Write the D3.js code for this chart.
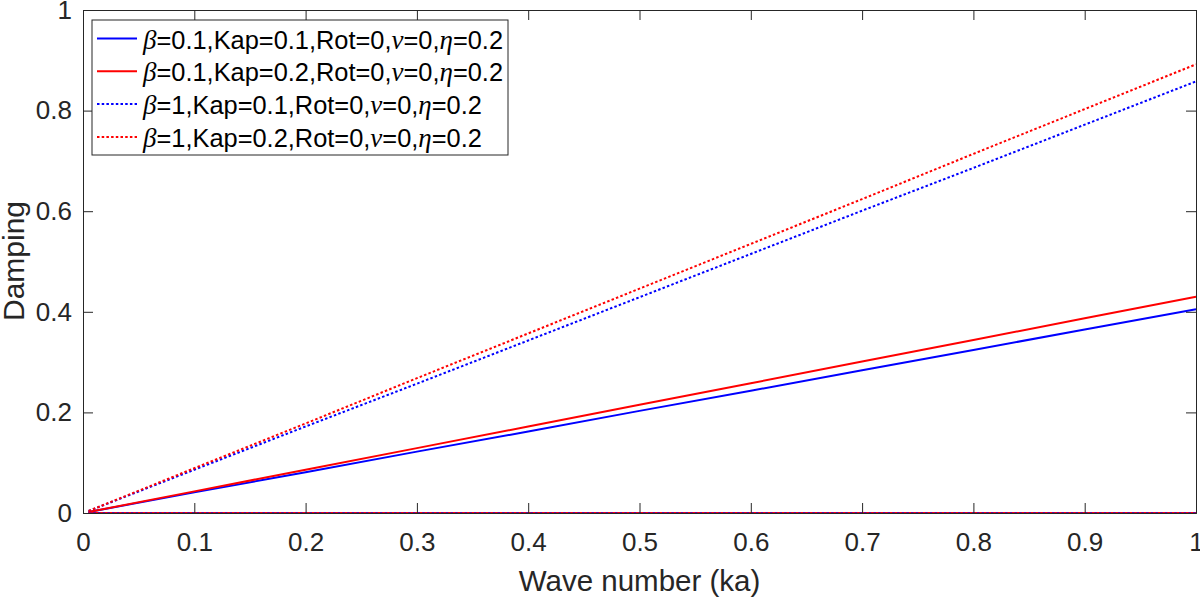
<!DOCTYPE html>
<html>
<head>
<meta charset="utf-8">
<script src="https://cdn.jsdelivr.net/npm/d3@7"></script>
<style>
  body { margin: 0; background: #fff; }
  svg { font-family: "Liberation Sans", Arial, sans-serif; }
</style>
</head>
<body>
<div id="chart"></div>
<script>
/* DATA */
const ka = [0.005, 0.1, 0.2, 0.3, 0.4, 0.5, 0.6, 0.7, 0.8, 0.9, 1.0];
const blueSolid = [0.002, 0.041, 0.081, 0.122, 0.162, 0.203, 0.243, 0.284, 0.324, 0.365, 0.405];
const redSolid  = [0.002, 0.043, 0.086, 0.129, 0.172, 0.215, 0.258, 0.301, 0.344, 0.387, 0.430];
const blueDot   = [0.004, 0.086, 0.172, 0.257, 0.343, 0.429, 0.515, 0.601, 0.686, 0.772, 0.858];
const redDot    = [0.004, 0.089, 0.178, 0.268, 0.357, 0.446, 0.535, 0.624, 0.714, 0.803, 0.892];
const zeroBranch = [0, 0, 0, 0, 0, 0, 0, 0, 0, 0, 0];
const xTicks = [0, 0.1, 0.2, 0.3, 0.4, 0.5, 0.6, 0.7, 0.8, 0.9, 1];
const yTicks = [0, 0.2, 0.4, 0.6, 0.8, 1];

const series = [
  { beta: "0.1", kap: "0.1", values: blueSolid, color: "#0000ff", dotted: false },
  { beta: "0.1", kap: "0.2", values: redSolid,  color: "#ff0000", dotted: false },
  { beta: "1",   kap: "0.1", values: blueDot,   color: "#0000ff", dotted: true },
  { beta: "1",   kap: "0.2", values: redDot,    color: "#ff0000", dotted: true }
];
// drawing order of the zero-damping branches (they all overlap on y = 0)
const zeroOrder = [0, 1, 3, 2];

/* LAYOUT */
const width = 1200, height = 597,
  margin = { top: 10, right: 4, bottom: 84, left: 83 };
const axisColor = "#262626";
const dots = "2.5,2.2";

const svg = d3.select("#chart").append("svg")
  .attr("width", width)
  .attr("height", height);

const xScale = d3.scaleLinear().domain([0, 1]).range([margin.left, width - margin.right]);
const yScale = d3.scaleLinear().domain([0, 1]).range([height - margin.bottom, margin.top]);

const line = d3.line()
  .x((d, i) => xScale(ka[i]))
  .y(d => yScale(d));

const plot = svg.append("g");
zeroOrder.forEach(k => {
  const s = series[k];
  plot.append("path")
    .datum(zeroBranch)
    .attr("d", line)
    .attr("fill", "none")
    .attr("stroke", s.color)
    .attr("stroke-width", 2)
    .attr("stroke-opacity", s.dotted ? 0.6 : 1)
    .attr("stroke-dasharray", s.dotted ? dots : null);
});
series.forEach(s => {
  plot.append("path")
    .datum(s.values)
    .attr("d", line)
    .attr("fill", "none")
    .attr("stroke", s.color)
    .attr("stroke-width", 2)
    .attr("stroke-dasharray", s.dotted ? dots : null);
});

// AXES (ticks inward, mirrored on top/right)
const fmt = d => d === 0 || d === 1 ? d3.format("d")(d) : d3.format(".1f")(d);
const xAxis = d3.axisBottom(xScale).tickValues(xTicks).tickSize(-10).tickPadding(20).tickFormat(fmt);
const yAxis = d3.axisLeft(yScale).tickValues(yTicks).tickSize(-10).tickPadding(11).tickFormat(fmt);

svg.append("g")
  .attr("transform", `translate(0, ${height - margin.bottom})`)
  .call(xAxis);
svg.append("g")
  .attr("transform", `translate(${margin.left}, 0)`)
  .call(yAxis);

svg.append("g")
  .attr("transform", `translate(0, ${margin.top})`)
  .call(d3.axisTop(xScale).tickValues(xTicks).tickSize(-10).tickFormat(""));
svg.append("g")
  .attr("transform", `translate(${width - margin.right}, 0)`)
  .call(d3.axisRight(yScale).tickValues(yTicks).tickSize(-10).tickFormat(""));

svg.selectAll(".domain").attr("stroke", axisColor).attr("stroke-width", 1);
svg.selectAll(".tick line").attr("stroke", axisColor).attr("stroke-width", 1);
svg.selectAll(".tick text")
  .attr("fill", axisColor)
  .style("font-size", "26px")
  .style("font-family", "'Liberation Sans', Arial, sans-serif");

// axis titles
svg.append("text")
  .attr("x", (margin.left + width - margin.right) / 2)
  .attr("y", 591)
  .attr("text-anchor", "middle")
  .attr("fill", axisColor)
  .style("font-size", "29.5px")
  .text("Wave number (ka)");

svg.append("text")
  .attr("transform", `translate(24, 261) rotate(-90)`)
  .attr("text-anchor", "middle")
  .attr("fill", axisColor)
  .style("font-size", "30px")
  .text("Damping");

// LEGEND
const legend = svg.append("g");
legend.append("rect")
  .attr("x", 92).attr("y", 20)
  .attr("width", 416).attr("height", 135)
  .attr("fill", "#fff")
  .attr("stroke", axisColor)
  .attr("stroke-width", 1);

series.forEach((s, i) => {
  const y = 38.5 + i * 32.8;
  legend.append("line")
    .attr("x1", 97).attr("x2", 137)
    .attr("y1", y).attr("y2", y)
    .attr("stroke", s.color)
    .attr("stroke-width", 2)
    .attr("stroke-dasharray", s.dotted ? dots : null);
  const t = legend.append("text")
    .attr("x", 143).attr("y", y + 10)
    .attr("fill", "#000")
    .style("font-size", "25.4px");
  const parts = [
    ["β", true], ["=" + s.beta + ",Kap=" + s.kap + ",Rot=0,", false],
    ["ν", true], ["=0,", false], ["η", true], ["=0.2", false]
  ];
  parts.forEach(([txt, isGreek]) => {
    const ts = t.append("tspan").text(txt);
    if (isGreek) {
      ts.style("font-family", "'Liberation Serif', 'DejaVu Serif', serif")
        .style("font-style", "italic")
        .style("font-size", "27px");
    }
  });
});
</script>
</body>
</html>
